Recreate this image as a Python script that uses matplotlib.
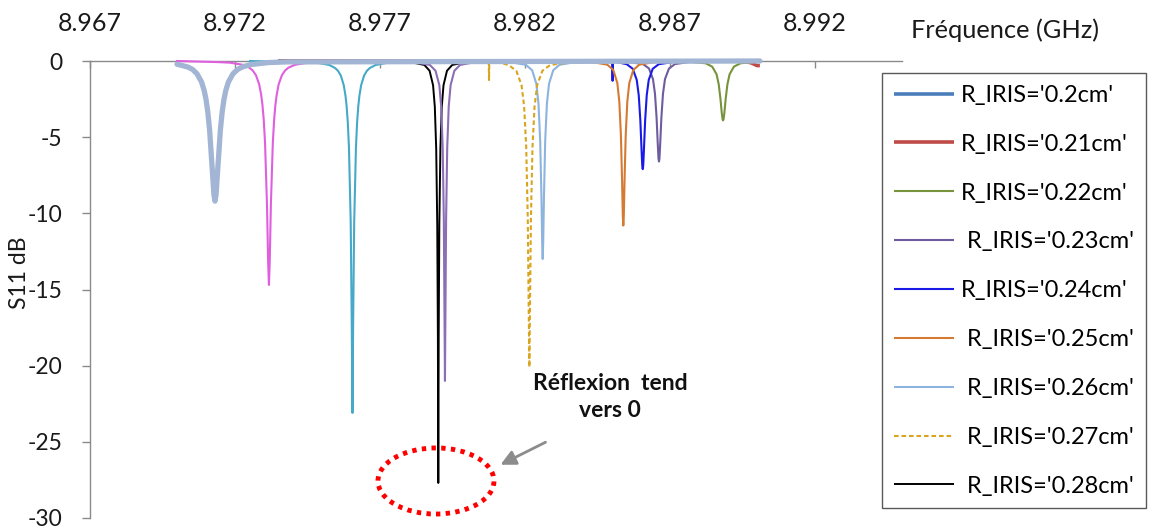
import matplotlib
matplotlib.use("Agg")
import matplotlib.pyplot as plt
from matplotlib.patches import Ellipse

plt.rcParams['font.family'] = ['Lato', 'DejaVu Sans']

# ---------------- data ----------------
tick_values = [8.967, 8.972, 8.977, 8.982, 8.987, 8.992]
tick_labels = ["8.967", "8.972", "8.977", "8.982", "8.987", "8.992"]
y_ticks = [0, -5, -10, -15, -20, -25, -30]

# R_IRIS = 0.2 cm (flat, hidden under other traces)
f_020 = [8.9735, 8.9901]
s_020 = [0.0, 0.0]

# R_IRIS = 0.21 cm
f_021 = [8.9735, 8.98948, 8.9898, 8.9900, 8.9901]
s_021 = [0.0, 0.0, -0.12, -0.30, -0.30]

# R_IRIS = 0.22 cm
f_022 = [8.9735, 8.98763, 8.98823, 8.988455, 8.988605, 8.98868, 8.98874, 8.988785, 8.988812,
         8.98883, 8.988848, 8.988875, 8.98892, 8.98898, 8.989055, 8.989205, 8.98943, 8.99003, 8.9901]
s_022 = [0.0, -0.04, -0.15, -0.37, -0.87, -1.53, -2.49, -3.41, -3.81,
         -3.90, -3.81, -3.41, -2.49, -1.53, -0.87, -0.37, -0.15, -0.04, 0.0]

# R_IRIS = 0.23 cm
f_023 = [8.9735, 8.985516, 8.986068, 8.986275, 8.986413, 8.986482, 8.986537, 8.986579, 8.986603,
         8.98662, 8.986637, 8.986661, 8.986703, 8.986758, 8.986827, 8.986965, 8.987172, 8.987724, 8.9901]
s_023 = [0.0, -0.05, -0.20, -0.49, -1.19, -2.15, -3.71, -5.48, -6.39,
         -6.60, -6.39, -5.48, -3.71, -2.15, -1.19, -0.49, -0.20, -0.05, 0.0]

# R_IRIS = 0.24 cm
f_024 = [8.9735, 8.98501, 8.98502, 8.98503, 8.985232, 8.985508, 8.985715, 8.985853, 8.985922,
         8.985977, 8.986019, 8.986043, 8.98606, 8.986077, 8.986101, 8.986143, 8.986198, 8.986267,
         8.986405, 8.986612, 8.987164, 8.9901]
s_024 = [0.0, 0.0, -1.30, 0.0, -0.10, -0.21, -0.51, -1.24, -2.24,
         -3.89, -5.83, -6.85, -7.10, -6.85, -5.83, -3.89, -2.24, -1.24,
         -0.51, -0.21, -0.05, 0.0]

# R_IRIS = 0.25 cm
f_025 = [8.9735, 8.984286, 8.984838, 8.985045, 8.985183, 8.985252, 8.985307, 8.985349, 8.985373,
         8.98539, 8.985407, 8.985431, 8.985473, 8.985528, 8.985597, 8.985735, 8.985942, 8.986494, 8.9901]
s_025 = [0.0, -0.06, -0.24, -0.59, -1.44, -2.66, -4.87, -7.99, -10.17,
         -10.80, -10.17, -7.99, -4.87, -2.66, -1.44, -0.59, -0.24, -0.06, 0.0]

# R_IRIS = 0.26 cm
f_026 = [8.9735, 8.98145, 8.98203, 8.982247, 8.982392, 8.982465, 8.982523, 8.982567, 8.982593,
         8.98261, 8.982627, 8.982654, 8.982697, 8.982755, 8.982828, 8.982973, 8.98319, 8.98377, 8.9901]
s_026 = [0.0, -0.06, -0.25, -0.61, -1.50, -2.80, -5.21, -8.91, -11.97,
         -13.00, -11.97, -8.91, -5.21, -2.80, -1.50, -0.61, -0.25, -0.06, 0.0]

# R_IRIS = 0.27 cm
f_027 = [8.9735, 8.98075, 8.98076, 8.98077, 8.98125, 8.98143, 8.98170, 8.98188, 8.98197, 8.982042,
         8.982096, 8.982128, 8.98215, 8.982172, 8.982204, 8.982258, 8.98233, 8.98242, 8.98260,
         8.98287, 8.98359, 8.9901]
s_027 = [0.0, 0.0, -1.25, 0.0, -0.17, -0.26, -0.64, -1.58, -2.97, -5.66,
         -10.38, -16.22, -20.10, -16.22, -10.38, -5.66, -2.97, -1.58, -0.64,
         -0.26, -0.07, 0.0]

# R_IRIS = 0.28 cm
f_028 = [8.9735, 8.97805, 8.97853, 8.97871, 8.97883, 8.97889, 8.978938, 8.978974, 8.978996,
         8.97901, 8.979024, 8.979046, 8.979082, 8.97913, 8.97919, 8.97931, 8.97949, 8.97997, 8.9901]
s_028 = [0.0, -0.07, -0.26, -0.64, -1.59, -3.00, -5.75, -10.75, -17.99,
         -27.70, -17.99, -10.75, -5.75, -3.00, -1.59, -0.64, -0.26, -0.07, 0.0]

# further sweeps not listed in the legend
f_x1 = [8.9735, 8.97820, 8.97872, 8.978915, 8.979045, 8.97911, 8.979162, 8.979201, 8.979224,
        8.97924, 8.979256, 8.979279, 8.979318, 8.97937, 8.979435, 8.979565, 8.97976, 8.98028, 8.9901]
s_x1 = [0.0, -0.07, -0.26, -0.64, -1.58, -2.98, -5.68, -10.46, -16.58,
        -21.00, -16.58, -10.46, -5.68, -2.98, -1.58, -0.64, -0.26, -0.07, 0.0]

f_x2 = [8.97252, 8.97485, 8.97525, 8.97545, 8.97555, 8.97565, 8.97575, 8.97581, 8.97585, 8.97589,
        8.97593, 8.97599, 8.976026, 8.97605, 8.976074, 8.97611, 8.97617, 8.97621, 8.97625,
        8.97629, 8.97635, 8.97645, 8.97655, 8.97665, 8.97685, 8.97725, 8.97765, 8.9901]
s_x2 = [0.0, -0.12, -0.26, -0.46, -0.64, -0.96, -1.59, -2.28, -2.99, -4.05,
        -5.71, -10.60, -17.20, -23.10, -17.20, -10.60, -5.71, -4.05, -2.99,
        -2.28, -1.59, -0.96, -0.64, -0.46, -0.26, -0.12, -0.07, 0.0]

f_x3 = [8.9700, 8.971378, 8.971826, 8.972274, 8.972498, 8.97261, 8.972722, 8.972834, 8.9729,
        8.972946, 8.972991, 8.973036, 8.973103, 8.973143, 8.97317, 8.973197, 8.973237, 8.973304,
        8.973349, 8.973394, 8.97344, 8.973506, 8.973618, 8.97373, 8.973842, 8.974066, 8.974514,
        8.974962, 8.9901]
s_x3 = [0.0, -0.07, -0.11, -0.25, -0.44, -0.62, -0.93, -1.53, -2.19,
        -2.87, -3.86, -5.38, -9.44, -13.22, -14.70, -13.22, -9.44, -5.38,
        -3.86, -2.87, -2.19, -1.53, -0.93, -0.62, -0.44, -0.25, -0.11,
        -0.07, 0.0]

f_x4 = [8.9700, 8.97038, 8.97054, 8.97069, 8.970845, 8.970938, 8.97100, 8.971062, 8.971124,
        8.971217, 8.971273, 8.97131, 8.971347, 8.971403, 8.971496, 8.971558, 8.97162, 8.971682,
        8.971775, 8.97193, 8.972085, 8.97224, 8.97255, 8.97317, 8.97379, 8.9901]
s_x4 = [-0.21, -0.40, -0.56, -0.84, -1.37, -1.94, -2.52, -3.34, -4.52,
        -7.15, -8.77, -9.20, -8.77, -7.15, -4.52, -3.34, -2.52, -1.94,
        -1.37, -0.84, -0.56, -0.40, -0.23, -0.10, -0.06, 0.0]

# ---------------- figure ----------------
W, H = 1154, 529
fig = plt.figure(figsize=(W / 100, H / 100), dpi=100)
ax = fig.add_axes([90 / W, 11 / H, 812 / W, 457 / H])

axis_grey = '#8a8a8a'
txt = '#1a1a1a'

legend_series = [
    (f_020, s_020, "R_IRIS='0.2cm'", dict(color='#4A7EBB', lw=2.6)),
    (f_021, s_021, "R_IRIS='0.21cm'", dict(color='#BE4B48', lw=2.6)),
    (f_022, s_022, "R_IRIS='0.22cm'", dict(color='#77933C', lw=1.5)),
    (f_023, s_023, " R_IRIS='0.23cm'", dict(color='#6E5C9E', lw=1.5)),
    (f_024, s_024, "R_IRIS='0.24cm'", dict(color='#1A1AE6', lw=1.5)),
    (f_025, s_025, " R_IRIS='0.25cm'", dict(color='#D57A33', lw=1.5)),
    (f_026, s_026, " R_IRIS='0.26cm'", dict(color='#8DB3DF', lw=1.5)),
    (f_027, s_027, " R_IRIS='0.27cm'", dict(color='#D9A41E', lw=1.5, ls=(0, (2.2, 1.4)))),
    (f_028, s_028, " R_IRIS='0.28cm'", dict(color='#000000', lw=1.4)),
]
extra_series = [
    (f_x1, s_x1, dict(color='#8B6EB4', lw=1.5)),
    (f_x2, s_x2, dict(color='#46A9C7', lw=1.5)),
    (f_x3, s_x3, dict(color='#DF5FDF', lw=1.5)),
]

handles = []
for f, s, lab, st in legend_series:
    ln, = ax.plot(f, s, solid_capstyle='butt', clip_on=False, zorder=3, **st)
    handles.append(ln)
for f, s, st in extra_series:
    ax.plot(f, s, clip_on=False, zorder=3, **st)
ax.plot(f_x4, s_x4, color='#A3B5D4', lw=3.8, solid_capstyle='round',
        solid_joinstyle='round', clip_on=False, zorder=4)

ax.set_xlim(8.967, 8.995)
ax.set_ylim(-30, 0)

ax.xaxis.tick_top()
ax.set_xticks(tick_values)
ax.set_xticklabels(tick_labels)
ax.set_yticks(y_ticks)
ax.set_yticklabels([str(v) for v in y_ticks])
ax.tick_params(axis='x', which='major', direction='in', length=5, width=1, color=axis_grey,
               labelsize=18, pad=19, labelcolor=txt)
ax.tick_params(axis='y', which='major', direction='out', length=6, width=1, color=axis_grey,
               labelsize=16.5, pad=14, labelcolor=txt)
for side in ['bottom', 'right']:
    ax.spines[side].set_visible(False)
for side in ['top', 'left']:
    ax.spines[side].set_color(axis_grey)
    ax.spines[side].set_linewidth(1)
ax.patch.set_alpha(0)

fig.text(20 / W, 1 - 273 / H, 'S11 dB', rotation=90, ha='center', va='center',
         fontsize=16.5, color=txt)
fig.text(911 / W, 1 - 30 / H, 'Fréquence (GHz)', ha='left', va='center',
         fontsize=18.3, color=txt)

leg = fig.legend(handles, [t[2] for t in legend_series], loc='upper left',
                 bbox_to_anchor=(882 / W, 1 - 73 / H), bbox_transform=fig.transFigure,
                 borderaxespad=0, frameon=True, fancybox=False, fontsize=17,
                 handlelength=2.55, handletextpad=0.3, labelspacing=1.18, borderpad=0.5)
leg.get_frame().set_edgecolor('#303030')
leg.get_frame().set_linewidth(1.0)

# annotation
fig.text(610 / W, 1 - 397 / H, 'Réflexion  tend\nvers 0', ha='center', va='center',
         fontsize=16.5, fontweight='bold', linespacing=1.3, color='#111111')
ax.annotate('', xy=(498, H - 466), xycoords='figure pixels',
            xytext=(548, H - 441), textcoords='figure pixels',
            arrowprops=dict(arrowstyle='-|>,head_length=0.9,head_width=0.45',
                            color='#8C8C8C', lw=2))
ell = Ellipse((8.97893, -27.57), width=0.0040, height=4.34, fill=False,
              edgecolor='#FF0000', lw=3.5, ls=(0, (0.9, 1.1)), clip_on=False, zorder=5)
ax.add_patch(ell)

fig.savefig('out.png', dpi=100)
